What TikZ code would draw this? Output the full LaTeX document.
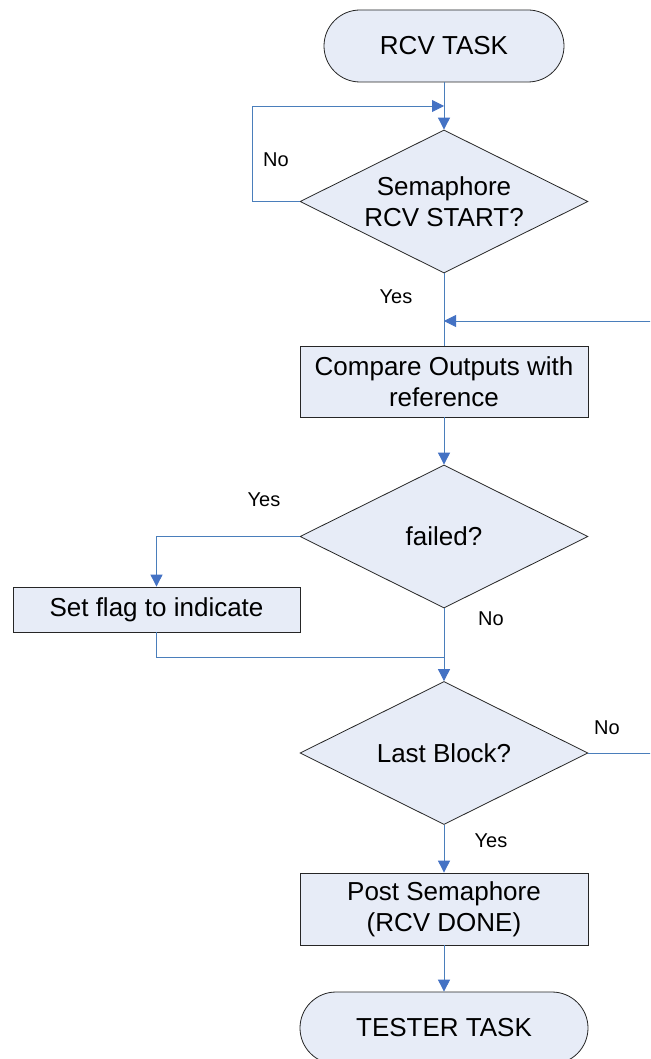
\documentclass[tikz,border=0pt]{standalone}
\usepackage{fontspec}
\setmainfont{Liberation Sans}
\usetikzlibrary{shapes.geometric,arrows.meta}
\definecolor{boxfill}{RGB}{231,236,247}
\definecolor{flowblue}{RGB}{74,126,187}
\definecolor{tipblue}{RGB}{68,114,196}
\tikzset{
  base/.style={draw=black!85, line width=0.8pt, fill=boxfill, font=\fontsize{26}{31}\selectfont, align=center, inner sep=0pt},
  term/.style={base, rectangle, rounded corners=36pt, minimum height=72pt},
  procbox/.style={base, rectangle, minimum width=288pt},
  decision/.style={base, diamond, aspect=2.03, minimum width=288pt, minimum height=143pt},
  flow/.style={draw=flowblue, line width=0.9pt},
  flowarrow/.style={flow, -{Triangle[length=12pt,width=12pt,fill=tipblue,color=tipblue]}},
  lbl/.style={font=\fontsize{20}{24}\selectfont, inner sep=0pt}
}
\begin{document}
\begin{tikzpicture}[x=1pt,y=-1pt]
\clip (0,0) rectangle (650,1059);
\fill[white] (0,0) rectangle (650,1059);

% flow nodes
\node[term, minimum width=240pt] (start) at (444,46) {RCV TASK};
\node[decision] (d1) at (444,201.5) {Semaphore\\RCV START?};
\node[procbox, minimum height=71pt] (cmp) at (444,381.5) {Compare Outputs with\\reference};
\node[decision] (d2) at (444,536.5) {failed?};
\node[procbox, minimum width=287pt, minimum height=45pt] (flag) at (156.5,609.5) {Set flag to indicate};
\node[decision] (d3) at (444,753) {Last Block?};
\node[procbox, minimum height=72pt] (post) at (444,909) {Post Semaphore\\(RCV DONE)};
\node[term, minimum width=288pt] (end) at (444,1028) {TESTER TASK};

% junction points on the main line
\coordinate (loopin) at (444,106);
\coordinate (retin) at (444,321);
\coordinate (merge) at (444,657);
\coordinate (farright) at (680,753);

% connectors
\draw[flowarrow] (start.south) -- (d1.north);
\draw[flowarrow] (d1.west) -- ++(-47,0) |- (loopin);
\draw[flow] (d1.south) -- (cmp.north);
\draw[flowarrow] (d3.east) -- (farright) |- (retin);
\draw[flowarrow] (cmp.south) -- (d2.north);
\draw[flowarrow] (d2.west) -| (flag.north);
\draw[flow] (flag.south) |- (merge);
\draw[flowarrow] (d2.south) -- (d3.north);
\draw[flowarrow] (d3.south) -- (post.north);
\draw[flowarrow] (post.south) -- (end.north);

% branch labels
\node[lbl] (l1) at (276,160) {No};
\node[lbl] (l2) at (396,297) {Yes};
\node[lbl] (l3) at (264,500) {Yes};
\node[lbl] (l4) at (491,619) {No};
\node[lbl] (l5) at (607,728) {No};
\node[lbl] (l6) at (491,841) {Yes};
\end{tikzpicture}
\end{document}
